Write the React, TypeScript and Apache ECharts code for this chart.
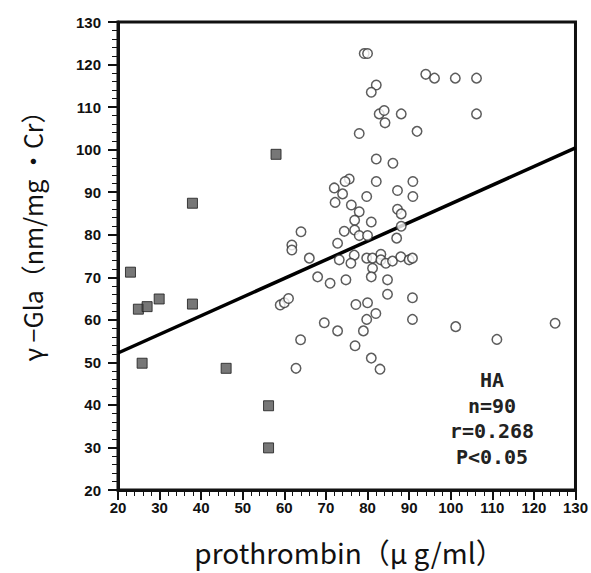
import React, { useEffect, useRef } from "react";
import * as echarts from "echarts";

// open circles (HA)
const openX = [79.2, 80.0, 94.0, 96.1, 101.1, 106.2, 82.1, 80.9, 106.2, 82.8, 84.0, 84.2, 88.1, 78.0, 91.9, 82.1, 86.1, 75.6, 74.6, 82.1, 90.9, 72.0, 87.2, 74.0, 72.2, 79.8, 90.9, 76.1, 78.0, 87.2, 88.1, 76.9, 80.9, 88.1, 74.4, 76.9, 78.0, 80.0, 87.0, 64.0, 61.8, 61.8, 66.0, 72.8, 73.2, 68.0, 71.0, 74.8, 59.0, 60.0, 61.0, 76.8, 76.0, 79.8, 81.2, 83.2, 83.2, 84.4, 86.0, 88.0, 90.0, 90.8, 81.2, 80.9, 84.8, 84.8, 90.8, 77.2, 80.0, 82.0, 79.8, 90.8, 79.0, 77.0, 80.9, 83.0, 69.6, 72.8, 63.9, 62.8, 101.2, 111.1, 125.1];
const openY = [122.6, 122.6, 117.7, 116.8, 116.8, 116.8, 115.2, 113.5, 108.4, 108.4, 109.2, 106.3, 108.4, 103.8, 104.3, 97.8, 96.8, 93.1, 92.5, 92.5, 92.5, 91.0, 90.4, 89.6, 87.6, 89.0, 89.0, 87.0, 85.4, 86.0, 84.9, 83.4, 83.0, 82.0, 80.8, 81.1, 79.8, 79.8, 79.2, 80.7, 77.6, 76.4, 74.5, 78.0, 74.1, 70.1, 68.6, 69.4, 63.5, 64.0, 65.0, 75.2, 73.3, 74.5, 74.5, 75.4, 74.1, 73.3, 73.8, 74.8, 74.1, 74.5, 72.1, 70.1, 69.4, 66.0, 65.2, 63.6, 64.0, 61.5, 60.1, 60.1, 57.4, 53.9, 51.0, 48.4, 59.3, 57.4, 55.3, 48.6, 58.4, 55.4, 59.2];

// filled squares
const sqX = [23.0, 24.9, 27.0, 29.9, 37.9, 25.8, 46.0, 56.2, 56.2, 58.0, 37.9];
const sqY = [71.2, 62.5, 63.1, 64.9, 63.7, 49.8, 48.6, 39.8, 29.9, 98.9, 87.4];

// regression line endpoints
const regX = [20, 130];
const regY = [52.2, 100.4];

const statLines = ["HA", "n=90", "r=0.268", "P<0.05"];
const xTitle = "prothrombin（μ g/ml）";
const yTitle = "γ −Gla（nm/mg ・Cr）";

export default function App() {
  const ref = useRef<HTMLDivElement>(null);
  useEffect(() => {
    if (!ref.current) return;
    const chart = echarts.init(ref.current, null, { renderer: "svg" });
    const axisCommon = {
      type: "value",
      min: 20,
      max: 130,
      interval: 10,
      axisLine: { show: true, lineStyle: { color: "#111", width: 3 } },
      axisTick: { show: true, length: 10, lineStyle: { color: "#111", width: 2 } },
      minorTick: { show: true, splitNumber: 5, length: 6, lineStyle: { color: "#111", width: 1 } },
      splitLine: { show: false },
      axisLabel: {
        color: "#111",
        fontFamily: "Liberation Sans, Arial, sans-serif",
        fontWeight: "bold",
        fontSize: 15,
      },
    };
    chart.setOption({
      animation: false,
      backgroundColor: "#fff",
      grid: {
        left: 118,
        right: 14,
        top: 22,
        bottom: 83,
        show: true,
        borderColor: "#111",
        borderWidth: 3,
        containLabel: false,
      },
      xAxis: { ...axisCommon, axisLabel: { ...axisCommon.axisLabel, margin: 10 } },
      yAxis: { ...axisCommon, axisLabel: { ...axisCommon.axisLabel, margin: 17 } },
      series: [
        {
          type: "line",
          data: regX.map((x, i) => [x, regY[i]]),
          symbol: "none",
          lineStyle: { color: "#000", width: 3.5 },
          z: 2,
        },
        {
          type: "scatter",
          data: openX.map((x, i) => [x, openY[i]]),
          symbol: "circle",
          symbolSize: 9.5,
          itemStyle: { color: "#fff", borderColor: "#333", borderWidth: 1.5 },
          z: 3,
        },
        {
          type: "scatter",
          data: sqX.map((x, i) => [x, sqY[i]]),
          symbol: "rect",
          symbolSize: 10,
          itemStyle: { color: "#555", borderColor: "#1a1a1a", borderWidth: 1 },
          z: 4,
        },
      ],
      graphic: [
        {
          type: "text",
          x: 32,
          y: 230,
          rotation: Math.PI / 2,
          style: {
            text: yTitle,
            fill: "#111",
            font: "25px 'Noto Sans CJK JP', sans-serif",
            textAlign: "center",
            textVerticalAlign: "middle",
          },
        },
        {
          type: "text",
          x: 349,
          y: 552,
          style: {
            text: xTitle,
            fill: "#111",
            font: "28px 'Noto Sans CJK JP', sans-serif",
            textAlign: "center",
            textVerticalAlign: "middle",
          },
        },
        ...statLines.map((t, i) => ({
          type: "text",
          x: 492,
          y: 380 + i * 25.5,
          style: {
            text: t,
            fill: "#222",
            font: "bold 20px 'DejaVu Sans Mono', monospace",
            textAlign: "center",
            textVerticalAlign: "middle",
          },
        })),
      ],
    });
    return () => chart.dispose();
  }, []);
  return <div ref={ref} style={{ width: 591, height: 573, position: "absolute", left: 0, top: 0 }} />;
}
